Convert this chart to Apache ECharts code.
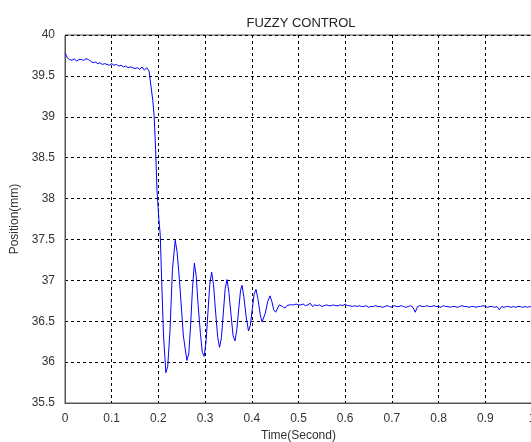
<!DOCTYPE html>
<html>
<head>
<meta charset="utf-8">
<script src="https://cdn.jsdelivr.net/npm/echarts@6/dist/echarts.min.js"></script>
<style>
  html, body { margin: 0; padding: 0; background: #fff; }
  #chart { width: 531px; height: 442px; }
</style>
</head>
<body>
<div id="chart"></div>
<script>
// 初始段: t = 0 .. 0.18, 步长 0.005
const initStart = 0
const initStep = 0.005
const initPos = [
  39.78, 39.72, 39.70, 39.69, 39.71, 39.68, 39.70, 39.70, 39.69, 39.71,
  39.70, 39.68, 39.66, 39.67, 39.65, 39.66, 39.64, 39.65, 39.64, 39.63,
  39.65, 39.63, 39.64, 39.62, 39.63, 39.61, 39.62, 39.60, 39.61, 39.60,
  39.59, 39.60, 39.58, 39.61, 39.57, 39.60, 39.56
]

// 过渡段 (下降与振荡), 时间点不等距
const transTime = [
  0.184, 0.188, 0.191, 0.194, 0.197, 0.201, 0.204, 0.207, 0.211, 0.216,
  0.220, 0.225, 0.230, 0.236, 0.240, 0.245, 0.2535, 0.261, 0.265, 0.269,
  0.273, 0.277, 0.281, 0.285, 0.290, 0.294, 0.298, 0.302, 0.306, 0.310,
  0.314, 0.318, 0.322, 0.327, 0.331, 0.335, 0.339, 0.343, 0.347, 0.351,
  0.356, 0.360, 0.364, 0.368, 0.372, 0.376, 0.379, 0.383, 0.388, 0.393,
  0.397, 0.401, 0.405, 0.409, 0.413, 0.418, 0.422, 0.425, 0.429, 0.434,
  0.439, 0.443, 0.447, 0.451, 0.455, 0.459, 0.462, 0.466, 0.471, 0.475,
  0.480
]
const transPos = [
  39.55, 39.20, 39.00, 38.60, 38.10, 37.75, 37.55, 37.00, 36.32, 35.87,
  35.95, 36.40, 37.13, 37.49, 37.35, 37.01, 36.32, 36.02, 36.10, 36.45,
  36.90, 37.21, 37.05, 36.70, 36.35, 36.12, 36.07, 36.25, 36.60, 36.95,
  37.10, 36.95, 36.65, 36.30, 36.18, 36.30, 36.60, 36.90, 37.01, 36.85,
  36.55, 36.32, 36.26, 36.40, 36.65, 36.88, 36.94, 36.80, 36.55, 36.38,
  36.45, 36.65, 36.83, 36.89, 36.78, 36.58, 36.49, 36.48, 36.60, 36.74,
  36.81, 36.74, 36.64, 36.61, 36.63, 36.70, 36.72, 36.68, 36.66, 36.69,
  36.70
]

// 稳态段: t = 0.485 .. 1.0, 步长 0.005
const steadyStart = 0.485
const steadyStep = 0.005
const steadyPos = [
  36.70, 36.70, 36.71, 36.70, 36.70, 36.71, 36.69, 36.70, 36.72, 36.68,
  36.70, 36.69, 36.70, 36.68, 36.69, 36.70, 36.69, 36.69, 36.70, 36.69,
  36.69, 36.70, 36.69, 36.71, 36.69, 36.69, 36.68, 36.69, 36.68, 36.69,
  36.68, 36.68, 36.69, 36.67, 36.68, 36.68, 36.69, 36.68, 36.68, 36.67,
  36.68, 36.69, 36.68, 36.67, 36.69, 36.68, 36.68, 36.69, 36.68, 36.67,
  36.68, 36.69, 36.67, 36.61, 36.68, 36.69, 36.68, 36.68, 36.69, 36.68,
  36.68, 36.69, 36.68, 36.68, 36.67, 36.69, 36.68, 36.68, 36.67, 36.68,
  36.68, 36.67, 36.68, 36.69, 36.68, 36.68, 36.67, 36.68, 36.68, 36.67,
  36.68, 36.68, 36.69, 36.68, 36.67, 36.68, 36.68, 36.67, 36.68, 36.64,
  36.68, 36.67, 36.68, 36.68, 36.67, 36.68, 36.67, 36.68, 36.68, 36.67,
  36.68, 36.67, 36.68, 36.67
]

const xTicks = { min: 0, max: 1, interval: 0.1 }
const yTicks = { min: 35.5, max: 40, interval: 0.5 }

const data = []
initPos.forEach((v, i) => data.push([+(initStart + i * initStep).toFixed(4), v]))
transPos.forEach((v, i) => data.push([transTime[i], v]))
steadyPos.forEach((v, i) => data.push([+(steadyStart + i * steadyStep).toFixed(4), v]))

const font = 'Liberation Sans, Arial, sans-serif'
const gridLine = { show: true, lineStyle: { color: '#000', type: [3, 3], width: 1 } }

const chart = echarts.init(document.getElementById('chart'))
chart.setOption({
  animation: false,
  title: {
    text: 'FUZZY CONTROL',
    left: 296,
    top: 12,
    textAlign: 'center',
    textStyle: { fontFamily: font, fontSize: 13, fontWeight: 'normal', color: '#222' }
  },
  grid: {
    left: 65, top: 35, width: 467, height: 368,
    outerBoundsMode: 'none',
    show: true, borderColor: '#555', borderWidth: 1
  },
  xAxis: {
    type: 'value',
    min: xTicks.min, max: xTicks.max, interval: xTicks.interval,
    name: 'Time(Second)',
    nameLocation: 'middle',
    nameGap: 27,
    nameTextStyle: { fontFamily: font, fontSize: 12, color: '#333' },
    axisLine: { show: true, lineStyle: { color: '#555' } },
    axisTick: { show: false },
    axisLabel: { fontFamily: font, fontSize: 12, color: '#333', margin: 10, formatter: v => String(+v.toFixed(1)) },
    splitLine: gridLine
  },
  yAxis: {
    type: 'value',
    min: yTicks.min, max: yTicks.max, interval: yTicks.interval,
    name: 'Position(mm)',
    nameLocation: 'middle',
    nameGap: 40,
    nameTextStyle: { fontFamily: font, fontSize: 12, color: '#333' },
    axisLine: { show: true, lineStyle: { color: '#555' } },
    axisTick: { show: false },
    axisLabel: { fontFamily: font, fontSize: 12, color: '#333', margin: 10, formatter: v => String(+v.toFixed(1)) },
    splitLine: gridLine
  },
  series: [{
    type: 'line',
    data,
    showSymbol: false,
    lineStyle: { color: '#0000ff', width: 1 },
    z: 3
  }]
})
</script>
</body>
</html>
